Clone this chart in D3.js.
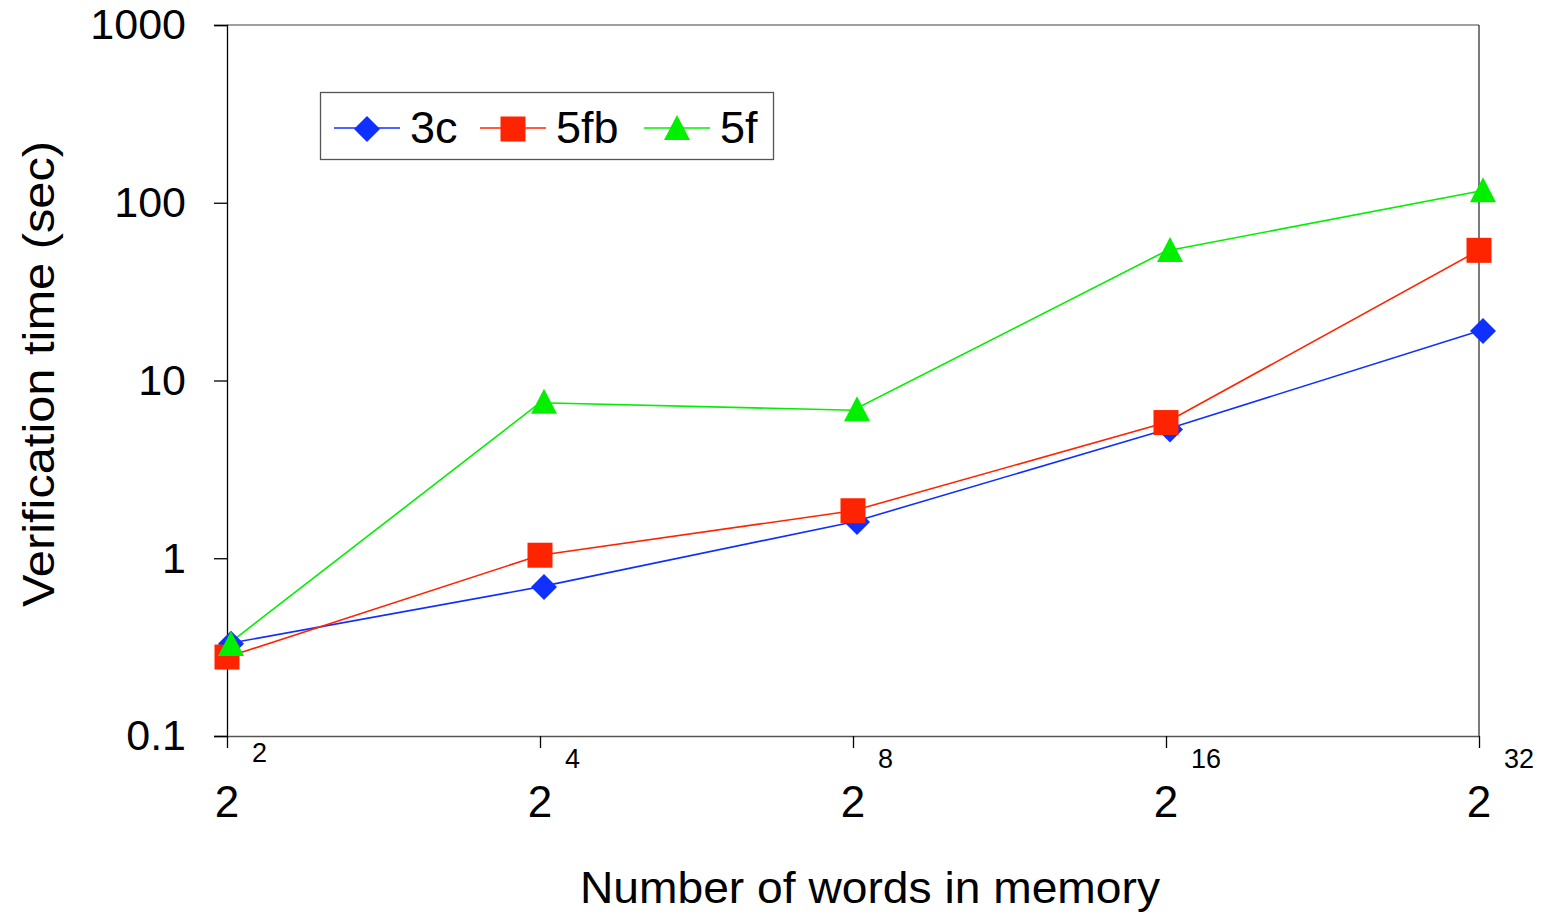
<!DOCTYPE html>
<html><head><meta charset="utf-8">
<script src="https://cdn.jsdelivr.net/npm/d3@7"></script>
<style>body{margin:0;background:#fff}svg{display:block;font-family:"Liberation Sans",Arial,sans-serif}</style>
</head><body>
<svg id="c" width="1545" height="915"></svg>
<script>
const exponents = [1, 2, 3, 4, 5];
const expLabels = ["2", "4", "8", "16", "32"];
const yTicks = [0.1, 1, 10, 100, 1000];
const yTickLabels = ["0.1", "1", "10", "100", "1000"];
const seriesNames = ["3c", "5fb", "5f"];
const v3c = [0.33, 0.69, 1.6, 5.3, 19];
const v5fb = [0.278, 1.04, 1.85, 5.8, 54];
const v5f = [0.325, 7.5, 6.8, 53.5, 116];

const styles = {
  "3c": {color: "#0f30ff", shape: "diamond", dx: 4},
  "5fb": {color: "#ff2400", shape: "square", dx: 0},
  "5f": {color: "#00f000", shape: "triangle", dx: 4}
};
const series = [
  {name: "3c", values: v3c},
  {name: "5fb", values: v5fb},
  {name: "5f", values: v5f}
];

const svg = d3.select("#c");
const L = 227, R = 1479, T = 25, B = 736;
const x = d3.scaleLinear().domain([1, 5]).range([L, R]);
const y = d3.scaleLog().domain([0.1, 1000]).range([B, T]);

// plot frame
svg.append("line").attr("x1", L).attr("x2", R).attr("y1", T).attr("y2", T).attr("stroke", "#808080").attr("stroke-width", 1.5);
svg.append("line").attr("x1", R).attr("x2", R).attr("y1", T).attr("y2", B).attr("stroke", "#333").attr("stroke-width", 1.3);

// y axis
const yAxis = d3.axisLeft(y).tickValues(yTicks).tickFormat((d, i) => yTickLabels[i]).tickSize(13).tickPadding(28);
const gy = svg.append("g").attr("transform", `translate(${L},0)`).call(yAxis);
gy.select(".domain").attr("stroke", "#000").attr("stroke-width", 1.3);
gy.selectAll(".tick line").attr("stroke", "#000").attr("stroke-width", 1.3);
gy.selectAll(".tick text").attr("font-size", 43).attr("fill", "#000").attr("font-family", "Liberation Sans, Arial, sans-serif");

// x axis
const xAxis = d3.axisBottom(x).tickValues(exponents).tickFormat("").tickSize(12).tickSizeOuter(0);
const gx = svg.append("g").attr("transform", `translate(0,${B})`).call(xAxis);
gx.select(".domain").attr("stroke", "#555").attr("stroke-width", 1.3);
gx.selectAll(".tick line").attr("stroke", "#000").attr("stroke-width", 1.3);

// x tick labels: base 2 with exponent
exponents.forEach((e, i) => {
  svg.append("text").attr("x", x(e)).attr("y", 817).attr("text-anchor", "middle")
    .attr("font-size", 44).text("2");
  svg.append("text").attr("x", x(e) + 25).attr("y", i === 0 ? 762 : 768).attr("text-anchor", "start")
    .attr("font-size", 27).text(expLabels[i]);
});

// axis titles
svg.append("text").attr("x", 870).attr("y", 903).attr("text-anchor", "middle").attr("font-size", 44)
  .attr("textLength", 580).attr("lengthAdjust", "spacingAndGlyphs").text("Number of words in memory");
svg.append("text").attr("transform", "translate(54,374) rotate(-90)").attr("text-anchor", "middle").attr("font-size", 45)
  .attr("textLength", 466).attr("lengthAdjust", "spacingAndGlyphs").text("Verification time (sec)");

function marker(g, shape, color, cx, cy) {
  const s = 25;
  if (shape === "diamond") {
    g.append("path").attr("d", `M${cx},${cy - 13}L${cx + 13},${cy}L${cx},${cy + 13}L${cx - 13},${cy}Z`).attr("fill", color);
  } else if (shape === "square") {
    g.append("rect").attr("x", cx - s / 2).attr("y", cy - s / 2).attr("width", s).attr("height", s).attr("fill", color);
  } else {
    g.append("path").attr("d", `M${cx},${cy - 14}L${cx + 13},${cy + 11}L${cx - 13},${cy + 11}Z`).attr("fill", color);
  }
}

const line = d3.line().x((d, i) => x(exponents[i])).y(d => y(d));
series.forEach(s => {
  const st = styles[s.name];
  svg.append("path").datum(s.values).attr("d", line).attr("fill", "none").attr("stroke", st.color).attr("stroke-width", 1.6);
});
series.forEach(s => {
  const st = styles[s.name];
  const g = svg.append("g");
  s.values.forEach((v, i) => marker(g, st.shape, st.color, x(exponents[i]) + st.dx, y(v)));
});

// legend
const lg = svg.append("g");
lg.append("rect").attr("x", 320.5).attr("y", 92.5).attr("width", 453).attr("height", 67).attr("fill", "#fff").attr("stroke", "#555").attr("stroke-width", 1.3);
const legX = [334, 480, 644];
const textX = [410, 556, 720];
series.forEach((s, i) => {
  const st = styles[s.name];
  lg.append("line").attr("x1", legX[i]).attr("x2", legX[i] + 66).attr("y1", 128).attr("y2", 128).attr("stroke", st.color).attr("stroke-width", 1.4);
  marker(lg, st.shape, st.color, legX[i] + 33, 129);
  lg.append("text").attr("x", textX[i]).attr("y", 143).attr("font-size", 45).text(s.name);
});
</script>
</body></html>
